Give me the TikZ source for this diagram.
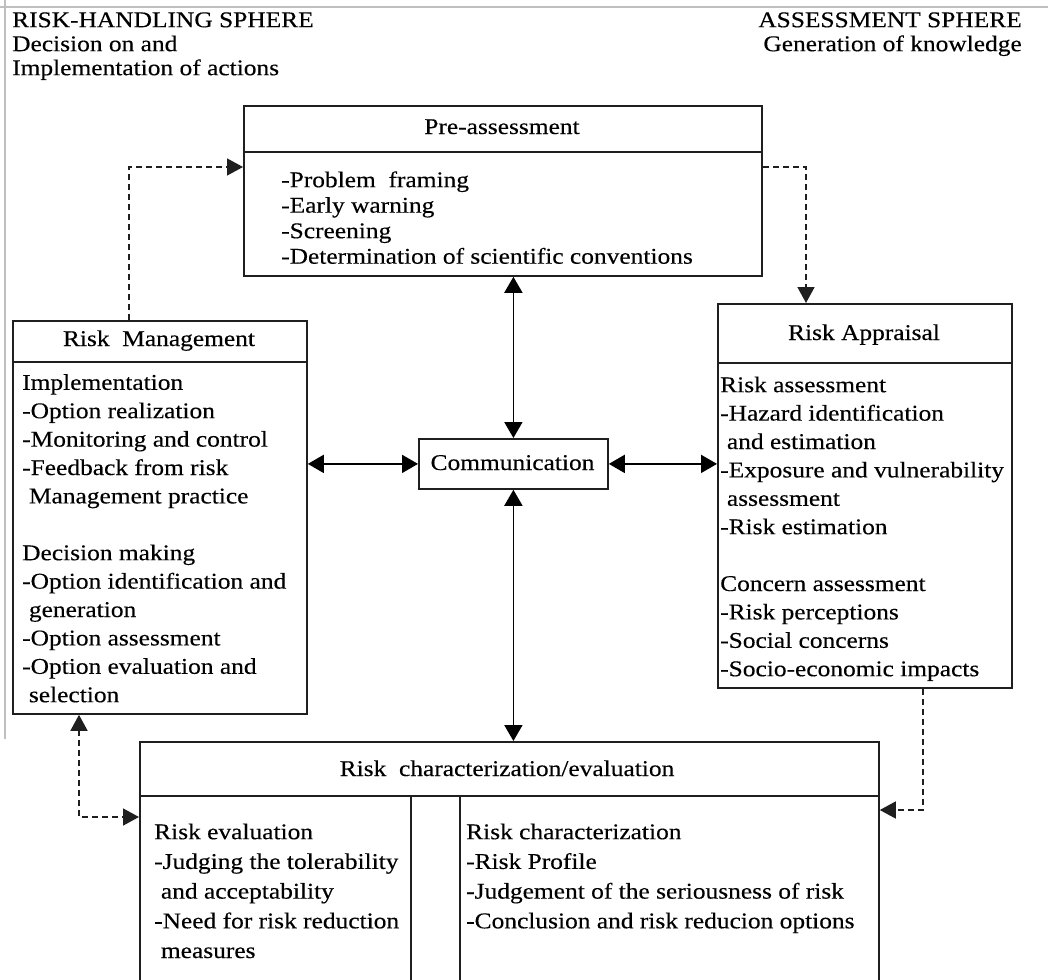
\documentclass[tikz,border=0pt]{standalone}
\usepackage{fontspec}
\setmainfont{Liberation Serif}[FakeStretch=1.13, FakeBold=0.3]
\usetikzlibrary{arrows.meta}
\newcommand{\firstline}{\rule{0pt}{16pt}}
\newcommand{\ind}{\hspace*{0.3em}}
\begin{document}
\begin{tikzpicture}[x=1pt,y=-1pt,
  box/.style={draw=black!88, line width=1.8pt, rectangle, inner sep=0pt, anchor=north west},
  rule/.style={draw=black!88, line width=1.8pt},
  ttl/.style={inner sep=0pt, anchor=base, font=\fontsize{22.5}{27}\selectfont, text=black},
  body/.style={inner sep=0pt, anchor=north west, align=left, text=black},
  head/.style={inner sep=0pt, text=black, font=\fontsize{22.5}{24}\selectfont},
  dbl/.style={line width=1.8pt, draw=black, {Triangle[length=16pt,width=18pt]}-{Triangle[length=16pt,width=18pt]}},
  dsh/.style={line width=1.5pt, draw=black!88, dash pattern=on 6pt off 4pt}
]
\clip (0,0) rectangle (1048,979);
\fill[white] (0,0) rectangle (1048,979);

% thin page frame
\draw[black!25, line width=1.2pt] (0,7) -- (1048,7);
\draw[black!25, line width=1.2pt] (5,0) -- (5,739);

% sphere headings
\node[head, anchor=north west, align=left] (lhead) at (12,11)
  {\firstline RISK-HANDLING SPHERE\\Decision on and\\Implementation of actions};
\node[head, anchor=north east, align=right] (rhead) at (1022,11)
  {\firstline ASSESSMENT SPHERE\\Generation of knowledge};

% boxes
\node[box, minimum width=518pt, minimum height=170pt] (pre) at (243,105) {};
\node[box, minimum width=294pt, minimum height=393pt] (rm) at (12,320) {};
\node[box, minimum width=294pt, minimum height=384pt] (ra) at (717,303) {};
\node[box, minimum width=189pt, minimum height=50pt] (comm) at (418,438) {};
\node[box, minimum width=739pt, minimum height=320pt] (rc) at (139,741) {};

% title rules and column rules
\draw[rule] (pre.west |- 0,152) -- (pre.east |- 0,152);
\draw[rule] (rm.west |- 0,362) -- (rm.east |- 0,362);
\draw[rule] (ra.west |- 0,363) -- (ra.east |- 0,363);
\draw[rule] (rc.west |- 0,796) -- (rc.east |- 0,796);
\draw[rule] (411,796) -- (411,990);
\draw[rule] (460,796) -- (460,990);

% titles
\node[ttl] (preT) at (502,134) {Pre-assessment};
\node[ttl] (rmT) at (159,346) {Risk\ \ Management};
\node[ttl] (raT) at (864,340) {Risk Appraisal};
\node[ttl] (commT) at (512.5,470) {Communication};
\node[ttl] (rcT) at (507,776) {Risk\ \ characterization/evaluation};

% box contents
\node[body, font=\fontsize{22.5}{25.5}\selectfont] (preB) at (281,171)
  {\firstline -Problem\ \ framing\\-Early warning\\-Screening\\-Determination of scientific conventions};

\node[body, font=\fontsize{22.5}{28.4}\selectfont] (rmB) at (22,373.6)
  {\firstline Implementation\\-Option realization\\-Monitoring and control\\-Feedback from risk\\
   \ind Management practice\\[28.4pt]
   Decision making\\-Option identification and\\\ind generation\\-Option assessment\\
   -Option evaluation and\\\ind selection};

\node[body, font=\fontsize{22.5}{28.4}\selectfont] (raB) at (720,376)
  {\firstline Risk assessment\\-Hazard identification\\\ind and estimation\\-Exposure and vulnerability\\
   \ind assessment\\-Risk estimation\\[28.4pt]
   Concern assessment\\-Risk perceptions\\-Social concerns\\-Socio-economic impacts};

\node[body, font=\fontsize{22.5}{29.7}\selectfont] (evB) at (154,823)
  {\firstline Risk evaluation\\-Judging the tolerability\\\ind and acceptability\\
   -Need for risk reduction\\\ind measures};

\node[body, font=\fontsize{22.5}{29.7}\selectfont] (chB) at (466,823)
  {\firstline Risk characterization\\-Risk Profile\\-Judgement of the seriousness of risk\\
   -Conclusion and risk reducion options};

% communication links
\draw[dbl] (comm.west -| rm.east) -- (comm.west);
\draw[dbl] (comm.east) -- (comm.east -| ra.west);
\draw[dbl] (comm.north |- pre.south) -- (comm.north);
\draw[dbl] (comm.south) -- (comm.south |- rc.north);

% dashed feedback loops
\coordinate (d1) at (129,167);
\coordinate (d2) at (806,167);
\coordinate (d3) at (923,810);
\coordinate (d4) at (79,817);
\draw[dsh, -{Triangle[length=16pt,width=17pt]}] (rm.north -| d1) -- (d1) -- (d1 -| pre.west);
\draw[dsh, -{Triangle[length=16pt,width=17pt]}] (d2 -| pre.east) -- (d2) -- (d2 |- ra.north);
\draw[dsh, -{Triangle[length=16pt,width=17pt]}] (d3 |- ra.south) -- (d3) -- (d3 -| rc.east);
\draw[dsh, {Triangle[length=16pt,width=17pt]}-{Triangle[length=16pt,width=17pt]}] (d4 |- rm.south) -- (d4) -- (d4 -| rc.west);
\end{tikzpicture}
\end{document}
